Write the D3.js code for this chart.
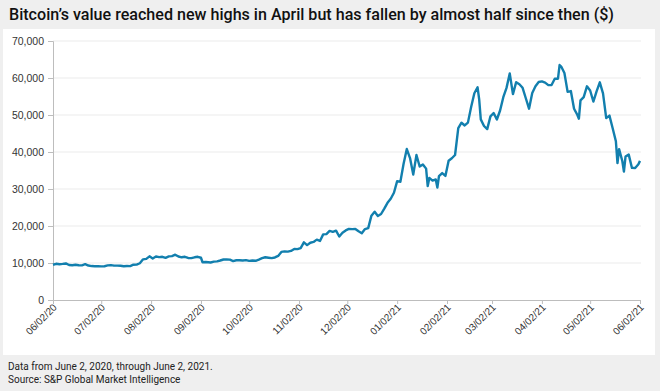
<!DOCTYPE html>
<html><head><meta charset="utf-8">
<script src="https://cdn.jsdelivr.net/npm/d3@7"></script>
<style>
html,body{margin:0;padding:0;background:#efefef;}
svg{display:block;}
</style></head>
<body>
<svg id="c" width="660" height="391"></svg>
<script>
const titleText = "Bitcoin\u2019s value reached new highs in April but has fallen by almost half since then ($)";
const footnotes = ["Data from June 2, 2020, through June 2, 2021.", "Source: S&P Global Market Intelligence"];
const yTicks = [0,10000,20000,30000,40000,50000,60000,70000];
const xTickDates = ["2020-06-02","2020-07-02","2020-08-02","2020-09-02","2020-10-02","2020-11-02","2020-12-02","2021-01-02","2021-02-02","2021-03-02","2021-04-02","2021-05-02","2021-06-02"];
const dates = [
"2020-06-02","2020-06-04","2020-06-06","2020-06-08","2020-06-10","2020-06-12","2020-06-14","2020-06-16","2020-06-18","2020-06-20","2020-06-22","2020-06-24","2020-06-26","2020-06-28","2020-06-30",
"2020-07-02","2020-07-04","2020-07-06","2020-07-08","2020-07-10","2020-07-12","2020-07-14","2020-07-16","2020-07-18","2020-07-20","2020-07-22","2020-07-24","2020-07-26","2020-07-28","2020-07-30",
"2020-08-01","2020-08-03","2020-08-05","2020-08-07","2020-08-09","2020-08-11","2020-08-13","2020-08-15","2020-08-17","2020-08-19","2020-08-21","2020-08-23","2020-08-25","2020-08-27","2020-08-29","2020-08-31",
"2020-09-02","2020-09-03","2020-09-05","2020-09-08","2020-09-10","2020-09-12","2020-09-14","2020-09-16","2020-09-18","2020-09-20","2020-09-22","2020-09-24","2020-09-26","2020-09-28","2020-09-30",
"2020-10-02","2020-10-04","2020-10-06","2020-10-08","2020-10-10","2020-10-12","2020-10-14","2020-10-16","2020-10-18","2020-10-20","2020-10-22","2020-10-24","2020-10-26","2020-10-28","2020-10-30",
"2020-11-01","2020-11-03","2020-11-05","2020-11-07","2020-11-09","2020-11-11","2020-11-13","2020-11-15","2020-11-17","2020-11-19","2020-11-21","2020-11-23","2020-11-25","2020-11-27","2020-11-29",
"2020-12-01","2020-12-03","2020-12-05","2020-12-07","2020-12-09","2020-12-11","2020-12-13","2020-12-15","2020-12-17","2020-12-19","2020-12-21","2020-12-23","2020-12-25","2020-12-27","2020-12-29","2020-12-31",
"2021-01-02","2021-01-04","2021-01-06","2021-01-08","2021-01-10","2021-01-12","2021-01-14","2021-01-16","2021-01-18","2021-01-20","2021-01-21","2021-01-22","2021-01-24","2021-01-26","2021-01-27","2021-01-28","2021-01-30",
"2021-02-01","2021-02-03","2021-02-05","2021-02-07","2021-02-09","2021-02-11","2021-02-13","2021-02-15","2021-02-17","2021-02-19","2021-02-21","2021-02-22","2021-02-23","2021-02-25","2021-02-27",
"2021-03-01","2021-03-03","2021-03-05","2021-03-07","2021-03-09","2021-03-11","2021-03-13","2021-03-15","2021-03-17","2021-03-19","2021-03-21","2021-03-23","2021-03-25","2021-03-27","2021-03-29","2021-03-31",
"2021-04-02","2021-04-04","2021-04-06","2021-04-08","2021-04-10","2021-04-12","2021-04-13","2021-04-14","2021-04-16","2021-04-18","2021-04-20","2021-04-22","2021-04-24","2021-04-25","2021-04-26","2021-04-28","2021-04-30",
"2021-05-02","2021-05-04","2021-05-06","2021-05-08","2021-05-10","2021-05-12","2021-05-14","2021-05-16","2021-05-18","2021-05-19","2021-05-20","2021-05-22","2021-05-23","2021-05-24","2021-05-26","2021-05-28","2021-05-30","2021-06-01","2021-06-02"
];
const prices = [
9530,9790,9660,9760,9880,9470,9380,9520,9390,9360,9690,9310,9170,9120,9140,
9090,9130,9350,9430,9280,9300,9250,9130,9170,9160,9540,9550,9930,10990,11110,
11800,11230,11750,11600,11680,11400,11780,11870,12250,11750,11540,11680,11370,11330,11540,11680,
11420,10200,10280,10130,10370,10440,10680,10950,10940,10920,10530,10750,10730,10690,10780,
10570,10680,10600,10920,11300,11550,11430,11320,11500,11920,12990,13130,13080,13270,13800,
13740,14030,15590,14830,15480,15700,16320,15960,17730,17800,18680,18410,18740,17150,18180,
18800,19200,19150,19190,18560,18050,19170,19430,22800,23870,22720,23240,24710,26270,27360,29000,
32130,31970,36820,40800,38360,33900,39190,36080,36630,35510,30800,33000,32260,32570,30400,33470,34290,
33520,37620,38310,39190,46480,47910,47170,47940,52150,55890,57490,54200,48820,47030,46190,
49630,50540,48780,51210,54820,57330,61240,55640,58870,58330,57350,54530,51700,55950,57750,58920,
59100,58760,58080,58090,59790,59810,63500,63100,61340,56260,56470,51700,50050,49000,53960,54840,57750,
56630,53640,56400,58840,55850,49150,49840,46420,42910,37000,40780,37570,34700,38760,39290,35700,35680,36680,37600
];

const svg = d3.select("#c");
const W = 660, H = 391;
const margin = {left:53, right:20, top:41, bottom:91};
const parse = d3.utcParse("%Y-%m-%d");
const data = dates.map((d,i)=>({date:parse(d), value:prices[i]}));

// panel
svg.append("rect").attr("x",3).attr("y",29).attr("width",652).attr("height",326).attr("fill","#ffffff");

// title
svg.append("text").attr("x",9).attr("y",20).text(titleText)
  .attr("font-family","Roboto, 'Liberation Sans', sans-serif").attr("font-weight",500)
  .attr("font-size",16).attr("fill","#111")
  .attr("textLength",605).attr("lengthAdjust","spacingAndGlyphs");

// footnotes
footnotes.forEach((t,i)=>{
  svg.append("text").attr("x",8).attr("y",370+i*12.5).text(t)
    .attr("font-family","Roboto, 'Liberation Sans', sans-serif")
    .attr("font-size",10).attr("fill","#222");
});

const x = d3.scaleUtc().domain([parse("2020-06-02"), parse("2021-06-02")]).range([53,640]);
const y = d3.scaleLinear().domain([0,70000]).range([300,41]);

// gridlines
svg.append("g").selectAll("line").data(yTicks.filter(v=>v>0)).join("line")
  .attr("x1",53).attr("x2",641).attr("y1",d=>y(d)).attr("y2",d=>y(d))
  .attr("stroke","#ebebeb").attr("stroke-width",1);

// y axis
const yAxis = svg.append("g").attr("transform","translate(53,0)")
  .call(d3.axisLeft(y).tickValues(yTicks).tickSize(5).tickPadding(4).tickFormat(d3.format(",")));
yAxis.select(".domain").attr("stroke","#bdbdbd");
yAxis.selectAll(".tick line").attr("stroke","#bdbdbd");
yAxis.selectAll("text").attr("font-family","'Liberation Sans', Arial, sans-serif").attr("font-size",10.5).attr("fill","#333");

// x axis
const xAxis = svg.append("g").attr("transform","translate(0,300)")
  .call(d3.axisBottom(x).tickValues(xTickDates.map(parse)).tickSize(4).tickFormat(d3.utcFormat("%m/%d/%y")));
xAxis.select(".domain").attr("stroke","#bdbdbd");
xAxis.selectAll(".tick line").attr("stroke","#bdbdbd");
xAxis.selectAll("text").attr("font-family","'Liberation Sans', Arial, sans-serif").attr("font-size",10).attr("fill","#333")
  .attr("text-anchor","end").attr("dy",null).attr("y",0)
  .attr("transform","translate(4,8) rotate(-45)");

// line
svg.append("path").datum(data)
  .attr("d", d3.line().x(d=>x(d.date)).y(d=>y(d.value)))
  .attr("fill","none").attr("stroke","#127fae").attr("stroke-width",2.4).attr("stroke-linejoin","round");
</script>
</body></html>
